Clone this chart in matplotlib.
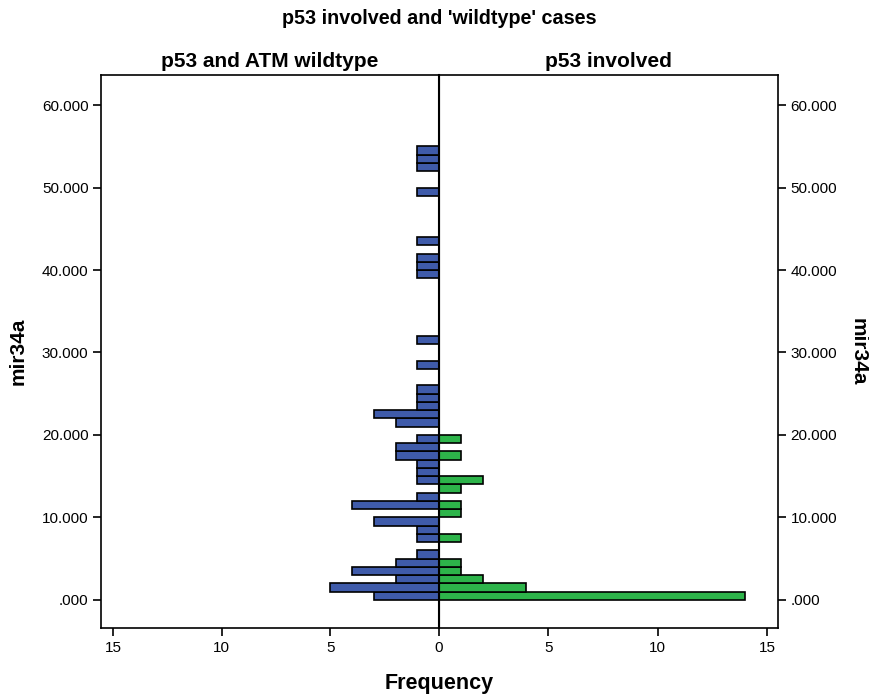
import matplotlib
matplotlib.use("Agg")
import matplotlib.pyplot as plt
from matplotlib.ticker import FuncFormatter

plt.rcParams['font.family'] = ['Liberation Sans', 'DejaVu Sans']

# mir34a histogram bins (lower edge, width 1) and frequencies per group
wildtype_bins = [0, 1, 2, 3, 4, 5, 7, 8, 9, 11, 12, 14, 15, 16, 17, 18, 19,
                 21, 22, 23, 24, 25, 28, 31, 39, 40, 41, 43, 49, 52, 53, 54]
wildtype_counts = [3, 5, 2, 4, 2, 1, 1, 1, 3, 4, 1, 1, 1, 1, 2, 2, 1,
                   2, 3, 1, 1, 1, 1, 1, 1, 1, 1, 1, 1, 1, 1, 1]
involved_bins = [0, 1, 2, 3, 4, 7, 10, 11, 13, 14, 17, 19]
involved_counts = [14, 4, 2, 1, 1, 1, 1, 1, 1, 2, 1, 1]

bin_width = 1.0
y_ticks = [0, 10, 20, 30, 40, 50, 60]
x_ticks = [0, 5, 10, 15]

blue = '#3F5BAA'
green = '#2DB44A'

fig = plt.figure(figsize=(8.7, 6.95), dpi=100)
ax_l = fig.add_axes([101 / 870, 67 / 695, 338 / 870, 553 / 695])
ax_r = fig.add_axes([439 / 870, 67 / 695, 339 / 870, 553 / 695])

ylim = (-3.4, 63.64)
fmt = FuncFormatter(lambda v, p: f"{v:.3f}".lstrip('0') if v >= 0 else f"{v:.3f}")

ax_l.barh([b + bin_width / 2 for b in wildtype_bins], wildtype_counts,
          height=bin_width, color=blue, edgecolor='black', linewidth=1.2)
ax_r.barh([b + bin_width / 2 for b in involved_bins], involved_counts,
          height=bin_width, color=green, edgecolor='black', linewidth=1.2)

ax_l.set_xlim(15.55, 0)
ax_r.set_xlim(0, 15.5)
for ax in (ax_l, ax_r):
    ax.set_ylim(*ylim)
    ax.set_yticks(y_ticks)
    ax.yaxis.set_major_formatter(fmt)
    ax.set_xticks(x_ticks)
    ax.tick_params(direction='out', length=6, width=1.2, labelsize=11,
                   colors='black')
    for s in ax.spines.values():
        s.set_linewidth(1.2)

ax_r.set_xticks(x_ticks[1:])
ax_r.yaxis.tick_right()
ax_r.yaxis.set_label_position('right')
ax_r.spines['left'].set_linewidth(1.5)
ax_l.spines['right'].set_visible(False)
ax_l.tick_params(axis='y', pad=3)
ax_r.tick_params(axis='y', pad=3)

# center zero line extending below the axis
ax_r.axvline(0, color='black', lw=1.5)

ax_l.set_ylabel('mir34a', fontsize=15, fontweight='bold', labelpad=10)
ax_r.set_ylabel('mir34a', fontsize=15, fontweight='bold', rotation=270,
                labelpad=22)

ax_l.set_title('p53 and ATM wildtype', fontsize=15, fontweight='bold', pad=6)
ax_r.set_title('p53 involved', fontsize=15, fontweight='bold', pad=6)

fig.text(439 / 870, 1 - 18 / 695, "p53 involved and 'wildtype' cases",
         ha='center', va='center', fontsize=14.2, fontweight='bold')
fig.text(439 / 870, 1 - 683 / 695, 'Frequency', ha='center', va='center',
         fontsize=15.5, fontweight='bold')

fig.savefig('out.png', dpi=100)
